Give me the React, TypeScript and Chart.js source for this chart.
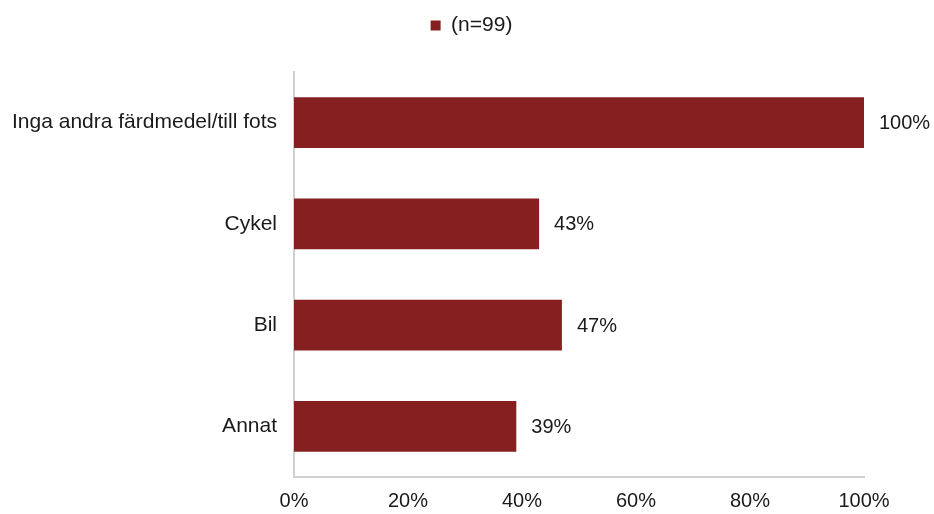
import React, { useEffect, useRef } from "react";
import { Chart, registerables } from "chart.js";

Chart.register(...registerables);

const categories = ["Inga andra färdmedel/till fots", "Cykel", "Bil", "Annat"];
const values = [100, 43, 47, 39];
const seriesLabel = "(n=99)";
const xTicks = [0, 20, 40, 60, 80, 100];

const BAR = "#861f1f";
const FONT = "'Liberation Sans', Arial, sans-serif";

const valueLabels = {
  id: "valueLabels",
  afterDatasetsDraw(chart: any) {
    const ctx = chart.ctx;
    const meta = chart.getDatasetMeta(0);
    ctx.save();
    ctx.font = `20px ${FONT}`;
    ctx.fillStyle = "#1a1a1a";
    ctx.textAlign = "left";
    ctx.textBaseline = "middle";
    meta.data.forEach((el: any, i: number) => {
      ctx.fillText(`${values[i]}%`, el.x + 15, el.y + 1);
    });
    ctx.restore();
  },
};

const legendGap = {
  id: "legendGap",
  beforeInit(chart: any) {
    const legend = chart.legend;
    if (!legend) return;
    const origFit = legend.fit;
    legend.fit = function () {
      origFit.call(this);
      this.height += 26;
    };
  },
  afterLayout(chart: any) {
    const legend = chart.legend;
    if (!legend) return;
    legend.left = 0;
    legend.right = 943;
  },
};

export default function App() {
  const ref = useRef<HTMLCanvasElement>(null);
  useEffect(() => {
    document.body.style.margin = "0";
    const chart = new Chart(ref.current!, {
      type: "bar",
      data: {
        labels: categories,
        datasets: [
          {
            label: seriesLabel,
            data: values,
            backgroundColor: BAR,
            borderWidth: 0,
            barPercentage: 0.5,
            categoryPercentage: 1,
          },
        ],
      },
      options: {
        indexAxis: "y",
        animation: false,
        responsive: false,
        maintainAspectRatio: false,
        layout: { padding: { top: 5, right: 70, bottom: 0, left: 0 } },
        plugins: {
          legend: {
            display: true,
            position: "top",
            labels: {
              font: { family: FONT, size: 21 },
              color: "#1a1a1a",
              boxWidth: 10,
              boxHeight: 10,
              padding: 10,
            },
          },
          tooltip: { enabled: false },
        },
        scales: {
          x: {
            min: 0,
            max: 100,
            afterBuildTicks: (s: any) => {
              s.ticks = xTicks.map((v) => ({ value: v }));
            },
            grid: { display: false, drawTicks: false },
            border: { display: true, color: "#d0d0d0", width: 2 },
            ticks: {
              font: { family: FONT, size: 20 },
              color: "#1a1a1a",
              padding: 12,
              maxRotation: 0,
              callback: (v: any) => `${v}%`,
            },
            afterFit: (s: any) => {
              s.height = 514 - 477;
            },
          },
          y: {
            grid: { display: false, drawTicks: false },
            border: { display: true, color: "#d0d0d0", width: 2 },
            ticks: {
              font: { family: FONT, size: 21 },
              color: "#1a1a1a",
              padding: 17,
            },
            afterFit: (s: any) => {
              s.width = 294;
            },
          },
        },
      },
      plugins: [legendGap, valueLabels],
    });
    return () => chart.destroy();
  }, []);
  return (
    <div style={{ position: "absolute", left: 0, top: 0, width: 934, height: 514, background: "#fff" }}>
      <canvas ref={ref} width={934} height={514} style={{ width: 934, height: 514 }} />
    </div>
  );
}
